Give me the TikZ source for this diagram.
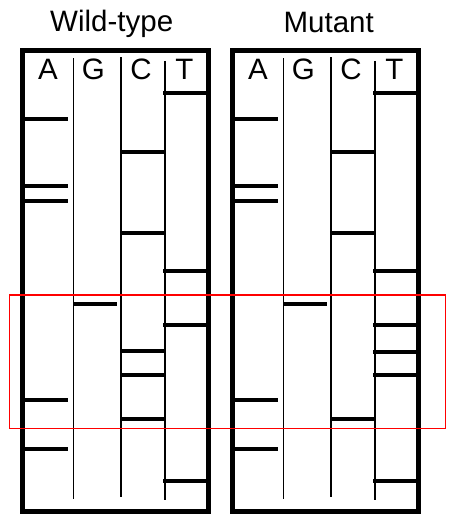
\documentclass[tikz,border=0pt]{standalone}
\usepackage{fontspec}
\setmainfont{Liberation Sans}
\begin{document}
\begin{tikzpicture}[x=1bp,y=-1bp,
  frame/.style={line width=5.5bp},
  lane/.style={line width=1.8bp},
  band/.style={line width=4.5bp},
  lbl/.style={anchor=base,inner sep=0pt,font=\fontsize{29.5bp}{34bp}\selectfont},
  hl/.style={draw=red,line width=1.6bp}]
\useasboundingbox (0,0) rectangle (451,514);
% titles
\node[lbl] (wtt) at (111.7,32) {Wild-type};
\node[lbl] (mut) at (328.7,33) {Mutant};
% gels
\foreach \dx/\nm/\Cb/\Tb in {0/wt/{152,233,351,375,419}/{93,271,325,481},
                             210/mu/{152,233,419}/{93,271,325,352,375,481}} {
  \begin{scope}[shift={(\dx,0)}]
    \draw[frame] (22.5,50.5) rectangle (208.5,511.5);
    \draw[lane] (73.5,58.5) -- (73.5,499);
    \draw[lane] (121,57.5) -- (121,497);
    \draw[lane] (165,61) -- (165,500);
    \node[lbl] (\nm A) at (48,80) {A};
    \node[lbl] (\nm G) at (93.3,80) {G};
    \node[lbl] (\nm C) at (141,80) {C};
    \node[lbl] (\nm T) at (184.5,80) {T};
    \foreach \y in {119,186,201,400,449} \draw[band] (25,\y) -- (68,\y);
    \draw[band] (74,304) -- (117,304);
    \foreach \y in \Cb \draw[band] (121,\y) -- (164,\y);
    \foreach \y in \Tb \draw[band] (163,\y) -- (206,\y);
  \end{scope}
}
% highlight
\draw[hl] (9.3,294.7) rectangle (445.5,428.3);
\end{tikzpicture}
\end{document}
